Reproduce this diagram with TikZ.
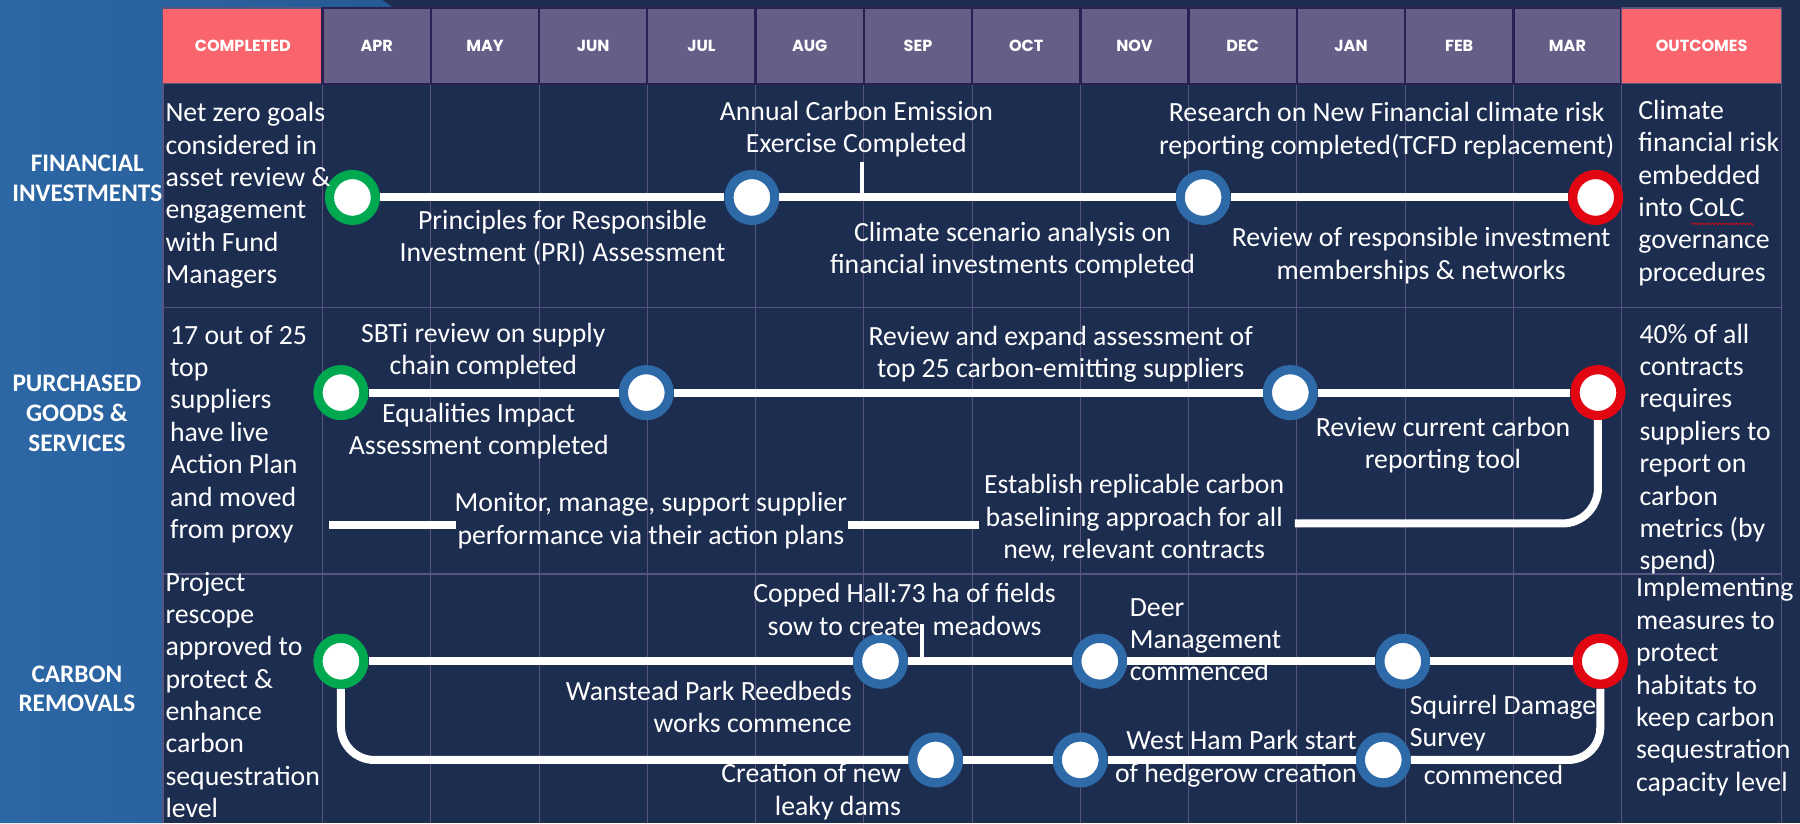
\documentclass[tikz,border=0pt]{standalone}
\usepackage{fontspec}
\setmainfont{Carlito}
\newfontfamily\hdrfont{Poppins}
\usepackage{tikz}
\usetikzlibrary{decorations.pathmorphing}
\definecolor{navy}{RGB}{28,45,80}
\definecolor{panel}{RGB}{44,103,165}
\definecolor{panel2}{RGB}{38,90,150}
\definecolor{hdrpurple}{RGB}{101,94,135}
\definecolor{hdrline}{RGB}{42,32,84}
\definecolor{salmon}{RGB}{250,100,108}
\definecolor{gridline}{RGB}{88,84,128}
\definecolor{ringgreen}{RGB}{0,168,80}
\definecolor{ringblue}{RGB}{46,106,168}
\definecolor{ringred}{RGB}{226,6,19}
\tikzset{track/.style = {draw=white, line width=7pt}}

\begin{document}
\begin{tikzpicture}[x=1pt, y=-1pt,
    mile node/.style={circle, fill=white, line width=8pt, minimum size=40pt, inner sep=0pt},
    hdr/.style={fill=hdrpurple, draw=hdrline, line width=2pt, minimum width=94.3pt, minimum height=66pt,
      inner sep=0pt, text=white, font=\hdrfont\bfseries\fontsize{14}{16}\selectfont},
    hdr end/.style={hdr, fill=salmon, draw=gridline, line width=1pt, minimum width=139.4pt},
    row label/.style={text=white, align=center, font=\bfseries\fontsize{22}{26}\selectfont},
    note/.style={text=white, align=center, anchor=north, inner sep=0pt, font=\fontsize{24.2}{28.2}\selectfont},
    cell/.style={note, align=left, anchor=north west}]
  \useasboundingbox (0,0) rectangle (1568,717);
  \fill[navy] (0,0) rectangle (1568,717);
  \shade[left color=panel, right color=panel2] (0,0) -- (333,0) -- (343,7) -- (142,7) -- (142,717) -- (0,717) -- cycle;

  % table grid
  \draw[gridline, line width=1pt] (142,7) -- (142,717) (281,7) -- (281,717) (375.3,7) -- (375.3,717)
    (469.6,7) -- (469.6,717) (563.9,7) -- (563.9,717) (658.2,7) -- (658.2,717) (752.5,7) -- (752.5,717)
    (846.8,7) -- (846.8,717) (941.1,7) -- (941.1,717) (1035.4,7) -- (1035.4,717) (1129.7,7) -- (1129.7,717)
    (1224,7) -- (1224,717) (1318.3,7) -- (1318.3,717) (1412.6,7) -- (1412.6,717) (1552,7) -- (1552,717)
    (142,7) -- (1552,7) (142,73) -- (1552,73) (142,268) -- (1552,268) (142,500) -- (1552,500);

  % header
  \node[hdr end] (hc) at (211.5,40) {COMPLETED};
  \node[hdr] (h1) at (328.15,40) {APR};
  \node[hdr] (h2) at (422.45,40) {MAY};
  \node[hdr] (h3) at (516.75,40) {JUN};
  \node[hdr] (h4) at (611.05,40) {JUL};
  \node[hdr] (h5) at (705.35,40) {AUG};
  \node[hdr] (h6) at (799.65,40) {SEP};
  \node[hdr] (h7) at (893.95,40) {OCT};
  \node[hdr] (h8) at (988.25,40) {NOV};
  \node[hdr] (h9) at (1082.55,40) {DEC};
  \node[hdr] (h10) at (1176.85,40) {JAN};
  \node[hdr] (h11) at (1271.15,40) {FEB};
  \node[hdr] (h12) at (1365.45,40) {MAR};
  \node[hdr end] (ho) at (1482.3,40) {OUTCOMES};

  \node[row label] (rf) at (76,155) {FINANCIAL\\INVESTMENTS};
  \node[row label] (rp) at (67,360) {PURCHASED\\GOODS \&\\SERVICES};
  \node[row label] (rc) at (67,600) {CARBON\\REMOVALS};

  % financial investments
  \node[mile node, draw=ringgreen] (f0) at (307,172) {};
  \node[mile node, draw=ringblue] (f1) at (655,172) {};
  \node[mile node, draw=ringblue] (f2) at (1048,172) {};
  \node[mile node, draw=ringred] (f3) at (1390,172) {};
  \coordinate (tk1) at (751,141);
  \draw[track] (f0) -- (f1);
  \draw[track] (f1) -- (f2);
  \draw[track] (f2) -- (f3);
  \draw[track, line width=4pt] (tk1) -- (tk1 |- f1);

  % purchased goods
  \node[mile node, draw=ringgreen] (p0) at (297,342) {};
  \node[mile node, draw=ringblue] (p1) at (563,342) {};
  \node[mile node, draw=ringblue] (p2) at (1124,342) {};
  \node[mile node, draw=ringred] (p3) at (1392,342) {};
  \coordinate (q1) at (287,457);
  \coordinate (q2) at (397,457);
  \coordinate (q3) at (739,457);
  \coordinate (q4) at (853,457);
  \coordinate (q5) at (1128,456);
  \draw[track] (p0) -- (p1);
  \draw[track] (p1) -- (p2);
  \draw[track] (p2) -- (p3);
  \draw[track] (q1) -- (q2);
  \draw[track] (q3) -- (q4);
  \draw[track, rounded corners=31pt] (q5) -| (p3.south);

  % carbon removals
  \node[mile node, draw=ringgreen] (c0) at (297,576) {};
  \node[mile node, draw=ringblue] (c1) at (767,576) {};
  \node[mile node, draw=ringblue] (c2) at (958,576) {};
  \node[mile node, draw=ringblue] (c3) at (1222,576) {};
  \node[mile node, draw=ringred] (c4) at (1394,576) {};
  \node[mile node, draw=ringblue] (d1) at (815,662) {};
  \node[mile node, draw=ringblue] (d2) at (941,662) {};
  \node[mile node, draw=ringblue] (d3) at (1205,662) {};
  \coordinate (tk2) at (803,544);
  \draw[track] (c0) -- (c1);
  \draw[track] (c1) -- (c2);
  \draw[track] (c2) -- (c3);
  \draw[track] (c3) -- (c4);
  \draw[track, line width=4pt] (tk2) -- (tk2 |- c1);
  \draw[track, rounded corners=29pt] (c0.south) |- (d1);
  \draw[track] (d1) -- (d2);
  \draw[track] (d2) -- (d3);
  \draw[track, rounded corners=28pt] (d3) -| (c4.south);

  % texts
  \node[cell] (t1) at (144,89) {Net zero goals\\considered in\\asset review \&\\engagement\\with Fund\\Managers};
  \node[note] (t2) at (746,88) {Annual Carbon Emission\\Exercise Completed};
  \node[note] (t3) at (490,183) {Principles for Responsible\\Investment (PRI) Assessment};
  \node[note] (t4) at (882,193) {Climate scenario analysis on\\financial investments completed};
  \node[note] (t5) at (1208,89) {Research on New Financial climate risk\\reporting completed(TCFD replacement)};
  \node[note] (t6) at (1238,198) {Review of responsible investment\\memberships \& networks};
  \node[cell] (t7) at (1427,87) {Climate\\financial risk\\embedded\\into CoLC\\governance\\procedures};
  \draw[ringred, line width=0.6pt, decorate, decoration={snake, amplitude=0.7pt, segment length=3pt}] (1473,195) -- (1528,195);

  \node[cell] (u1) at (148,283) {17 out of 25\\top\\suppliers\\have live\\Action Plan\\and moved\\from proxy};
  \node[note] (u2) at (421,281) {SBTi review on supply\\chain completed};
  \node[note] (u3) at (417,351) {Equalities Impact\\Assessment completed};
  \node[note] (u4) at (567,429) {Monitor, manage, support supplier\\performance via their action plans};
  \node[note] (u5) at (924,284) {Review and expand assessment of\\top 25 carbon-emitting suppliers};
  \node[note] (u6) at (988,413) {Establish replicable carbon\\baselining approach for all\\new, relevant contracts};
  \node[note] (u7) at (1257,363) {Review current carbon\\reporting tool};
  \node[cell] (u8) at (1428,282) {40\% of all\\contracts\\requires\\suppliers to\\report on\\carbon\\metrics (by\\spend)};

  \node[cell] (v1) at (144,498) {Project\\rescope\\approved to\\protect \&\\enhance\\carbon\\sequestration\\level};
  \node[note] (v2) at (788,508) {Copped Hall:73 ha of fields\\sow to create\ \ meadows};
  \node[note, anchor=north east, align=right] (v3) at (742,593) {Wanstead Park Reedbeds\\works commence};
  \node[cell] (v4) at (984,521) {Deer\\Management\\commenced};
  \node[note, anchor=north east, align=right] (v5) at (785,665) {Creation of new\\leaky dams};
  \node[note, anchor=north east, align=right] (v6) at (1182,636) {West Ham Park start\\of hedgerow creation};
  \node[cell] (v7) at (1228,605) {Squirrel Damage\\Survey};
  \node[note] (v8) at (1301,666) {commenced};
  \node[cell] (v9) at (1425,503) {Implementing\\measures to\\protect\\habitats to\\keep carbon\\sequestration\\capacity level};
\end{tikzpicture}
\end{document}
